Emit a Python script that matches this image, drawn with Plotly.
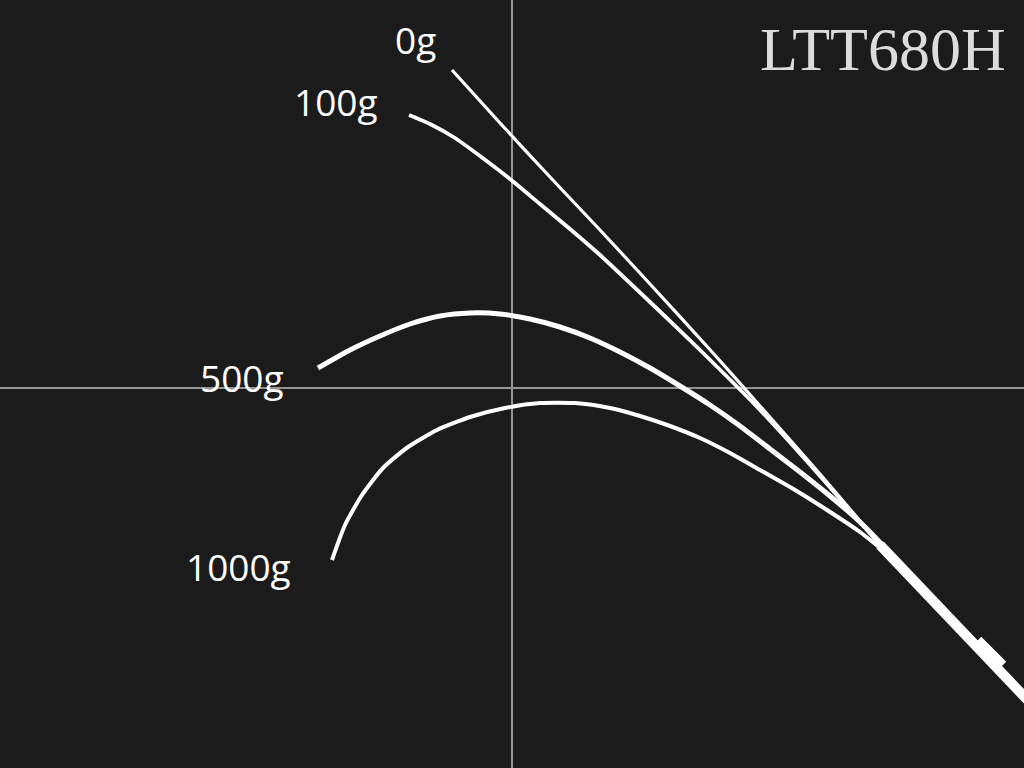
import plotly.graph_objects as go

# Rod bend curves (x: horizontal offset from crosshair, y: height above crosshair)
x_0g = [-60, -12, 38, 88, 138, 201, 248, 308, 381]
y_0g = [318, 265, 211, 158, 104, 35, -18, -86, -172]

x_100g = [-103, -82, -57, -32, -2, 28, 58, 88, 138, 188, 248, 308, 381]
y_100g = [273, 264, 250, 232, 209, 184, 159, 133, 86, 38, -22, -88, -172]

x_500g = [-194, -162, -132, -102, -72, -42, -12, 18, 48, 78, 108, 138, 168, 198, 228, 258, 288, 318, 348, 381]
y_500g = [20, 38, 52, 64, 72, 75, 74, 69, 61, 50, 36, 20, 2, -17, -38, -61, -84, -108, -134, -168]

x_1000g = [-180, -167, -150, -129, -104, -75, -42, -7, 28, 63, 98, 128, 158, 188, 218, 248, 283, 315, 348, 378]
y_1000g = [-172, -137, -107, -80, -59, -42, -29, -20, -15, -15, -20, -28, -38, -50, -65, -82, -102, -122, -144, -168]

x_butt = [368, 525]
y_butt = [-157, -322]
x_seat = [465, 490]
y_seat = [-253, -278]

labels = ["0g", "100g", "500g", "1000g"]
label_x = [-97, -176, -270, -274]
label_y = [349, 287, 11, -178]
title_text = "LTT680H"

bg = "#1b1b1b"
fig = go.Figure()

series = [
    (x_0g, y_0g, 3.2),
    (x_100g, y_100g, 3.8),
    (x_500g, y_500g, 5.0),
    (x_1000g, y_1000g, 4.0),
]
for xs, ys, w in series:
    fig.add_trace(go.Scatter(x=xs, y=ys, mode="lines",
                             line=dict(color="white", width=w, shape="spline", smoothing=0.6),
                             hoverinfo="skip", showlegend=False))

fig.add_trace(go.Scatter(x=x_butt, y=y_butt, mode="lines",
                         line=dict(color="white", width=10), hoverinfo="skip", showlegend=False))
fig.add_trace(go.Scatter(x=x_seat, y=y_seat, mode="lines",
                         line=dict(color="white", width=12), hoverinfo="skip", showlegend=False))

for t, lx, ly in zip(labels, label_x, label_y):
    fig.add_annotation(x=lx, y=ly, text=t, showarrow=False,
                       font=dict(family="Open Sans", size=37, color="white"),
                       xanchor="center", yanchor="middle")

fig.add_annotation(xref="paper", yref="paper", x=1008/1024, y=1 - 49/768,
                   text=title_text, showarrow=False,
                   font=dict(family="Liberation Serif", size=62, color="#dcdcdc"),
                   xanchor="right", yanchor="middle")

axis_common = dict(showgrid=False, showticklabels=False, ticks="", showline=False,
                   zeroline=True, zerolinecolor="#949494", zerolinewidth=2, fixedrange=True)
fig.update_xaxes(range=[-512, 512], **axis_common)
fig.update_yaxes(range=[-380, 388], **axis_common)

fig.update_layout(width=1024, height=768, margin=dict(l=0, r=0, t=0, b=0),
                  paper_bgcolor=bg, plot_bgcolor=bg)

fig.write_html("out.html", config={"displayModeBar": False})

# remove default page margin so the figure fills the window exactly
with open("out.html", "r", encoding="utf-8") as f:
    html = f.read()
html = html.replace("<head>", "<head><style>html,body{margin:0;padding:0;background:#1b1b1b;overflow:hidden;}</style>", 1)
with open("out.html", "w", encoding="utf-8") as f:
    f.write(html)
